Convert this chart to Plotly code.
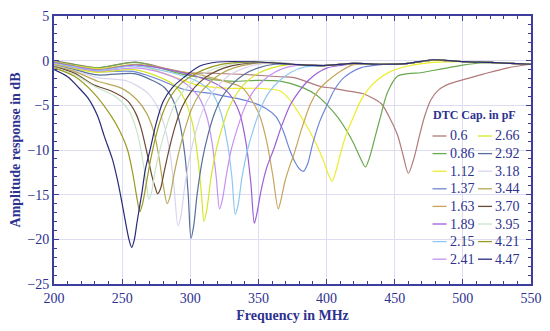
import plotly.graph_objects as go

# ---------------- data ----------------
caps = ["0.6", "0.86", "1.12", "1.37", "1.63", "1.89", "2.15", "2.41",
        "2.66", "2.92", "3.18", "3.44", "3.70", "3.95", "4.21", "4.47"]

colors = ["#b07a7a", "#6aa84f", "#ecec2c", "#6f86d6", "#c8a45a", "#9b5fd6",
          "#8ec8f0", "#c890f0", "#d6e62a", "#55709a", "#d8d4ee", "#b8a858",
          "#6b4a35", "#c8e4c8", "#9a9a20", "#2a2a7a"]

f_060 = [200, 215, 232, 260, 294, 315, 340, 366, 376, 396, 403, 410, 420, 427, 440, 446, 452, 456, 460, 464, 468, 472, 476.5, 482, 490, 501, 515, 533, 550]
v_060 = [0.0, -0.4, -0.8, -0.15, -1.3, -1.4, -1.55, -1.8, -1.9, -2.9, -3.05, -3.25, -3.5, -3.7, -4.8, -6.3, -8.3, -10.5, -12.6, -11.0, -8.5, -6.2, -4.4, -3.3, -2.6, -2.1, -1.5, -0.8, -0.4]

f_086 = [200, 215, 232, 260, 294, 329, 350, 366, 383, 393, 400, 408, 415, 420, 424.5, 428.5, 432, 436, 439.7, 444.6, 452, 460, 469, 478, 489, 500, 513, 535, 550]
v_086 = [-0.05, -0.45, -0.8, -0.2, -1.5, -2.3, -2.2, -2.3, -3.05, -3.9, -4.9, -6.3, -7.9, -9.3, -10.8, -11.9, -10.6, -8.3, -6.2, -3.6, -1.75, -1.45, -1.35, -1.1, -0.8, -0.5, -0.26, -0.3, -0.4]

f_112 = [200, 215, 232, 262, 280, 295, 307, 330, 350, 366, 372, 378.5, 385, 390.7, 395, 398, 401, 404, 407, 410, 415, 420, 425, 430, 437, 447, 460, 478, 500, 520, 535, 550]
v_112 = [-0.1, -0.55, -0.9, -0.45, -1.4, -2.2, -2.8, -3.1, -3.1, -3.4, -4.2, -5.6, -7.2, -8.8, -10.2, -11.3, -12.6, -13.5, -12.3, -10.5, -8.0, -6.2, -4.5, -3.3, -2.2, -1.2, -0.6, -0.2, -0.1, -0.2, -0.3, -0.4]

f_137 = [200, 215, 232, 258, 275, 295, 320, 344, 355, 363, 368, 373, 377, 380, 383, 386, 390, 395, 400.5, 406, 412.7, 425, 440, 460, 478, 500, 520, 535, 550]
v_137 = [-0.15, -0.6, -1.2, -1.2, -2.0, -3.2, -3.8, -4.6, -5.3, -6.3, -7.8, -10.0, -11.4, -12.1, -12.4, -11.6, -9.2, -6.8, -4.9, -3.2, -1.9, -0.8, -0.45, -0.3, 0.05, -0.1, -0.2, -0.3, -0.4]

f_163 = [200, 215, 232, 260, 290, 310, 325, 338, 345, 351, 356, 360.5, 364.5, 366.5, 369.5, 372.5, 376, 382, 388, 394, 400.5, 410, 420, 440, 460, 478, 500, 520, 535, 550]
v_163 = [-0.2, -0.6, -1.0, -0.4, -1.1, -1.7, -2.3, -3.0, -4.4, -6.2, -9.0, -12.8, -16.6, -15.6, -13.5, -12.0, -10.5, -7.5, -4.9, -3.3, -2.3, -1.2, -0.45, -0.4, -0.3, 0.05, -0.1, -0.2, -0.3, -0.4]

f_189 = [200, 215, 232, 260, 290, 315, 328, 336, 341, 344.5, 347, 349, 352, 356, 361, 367, 373.5, 380, 386, 393, 400.5, 412, 420, 440, 460, 478, 500, 520, 535, 550]
v_189 = [-0.25, -0.65, -1.05, -0.5, -1.2, -2.3, -3.6, -5.8, -9.3, -13.8, -18.2, -17.0, -14.5, -12.0, -10.0, -7.3, -4.9, -3.4, -2.3, -1.4, -0.8, -0.5, -0.3, -0.4, -0.3, 0.05, -0.1, -0.2, -0.3, -0.4]

f_215 = [200, 215, 232, 260, 285, 305, 316, 322, 327, 330.5, 333, 335, 338, 342, 346.5, 352, 358, 365, 374, 384, 398, 420, 440, 460, 478, 500, 520, 535, 550]
v_215 = [-0.3, -0.7, -1.1, -0.6, -1.3, -2.3, -3.6, -5.6, -9.0, -13.0, -17.2, -16.2, -13.0, -10.0, -7.6, -5.2, -3.5, -2.3, -1.3, -0.7, -0.55, -0.3, -0.4, -0.3, 0.05, -0.1, -0.2, -0.3, -0.4]

f_241 = [200, 215, 232, 260, 280, 297, 306, 312, 316, 319, 321.5, 323.5, 326.5, 330, 334.5, 340, 346, 353, 362, 372, 385, 398, 420, 440, 460, 478, 500, 520, 535, 550]
v_241 = [-0.35, -0.8, -1.2, -0.8, -1.4, -2.6, -4.0, -6.2, -9.2, -13.0, -16.6, -15.6, -12.8, -10.0, -7.6, -5.2, -3.5, -2.3, -1.3, -0.7, -0.45, -0.55, -0.3, -0.4, -0.3, 0.05, -0.1, -0.2, -0.3, -0.4]

f_266 = [200, 215, 232, 259, 275, 288, 296, 302, 306, 308.5, 310, 312, 315, 319, 323, 328, 334, 341, 350, 360, 372, 385, 398, 420, 440, 460, 478, 500, 520, 535, 550]
v_266 = [-0.4, -0.9, -1.3, -1.0, -1.7, -2.7, -4.4, -7.3, -11.5, -15.5, -18.0, -16.8, -13.3, -10.0, -7.7, -5.4, -3.7, -2.4, -1.4, -0.8, -0.45, -0.45, -0.55, -0.3, -0.4, -0.3, 0.05, -0.1, -0.2, -0.3, -0.4]

f_292 = [200, 215, 232, 259, 272, 281, 287, 292, 296, 298.5, 300.5, 302.5, 305, 309, 313, 318, 324, 331, 340, 350, 362, 375, 390, 405, 420, 440, 460, 478, 500, 520, 535, 550]
v_292 = [-0.5, -1.0, -1.6, -1.45, -2.2, -3.0, -4.3, -6.8, -10.5, -15.0, -19.9, -18.5, -15.0, -11.0, -8.3, -5.8, -3.9, -2.6, -1.5, -0.8, -0.4, -0.4, -0.5, -0.5, -0.3, -0.4, -0.3, 0.05, -0.1, -0.2, -0.3, -0.4]

f_318 = [200, 215, 232, 254, 268.6, 276, 281, 285, 288, 291, 293, 296, 300, 304, 309, 315, 322, 330, 340, 352, 365, 380, 398, 420, 440, 460, 478, 500, 520, 535, 550]
v_318 = [-0.55, -1.1, -1.9, -2.3, -3.6, -5.2, -7.3, -10.2, -14.0, -18.5, -17.5, -14.0, -10.5, -8.0, -5.6, -3.8, -2.5, -1.5, -0.8, -0.35, -0.2, -0.4, -0.55, -0.3, -0.4, -0.3, 0.05, -0.1, -0.2, -0.3, -0.4]

f_344 = [200, 215, 232, 249, 261, 268, 273.5, 277, 280, 283, 285, 288, 292, 296, 301, 307, 314, 322, 332, 345, 360, 375, 398, 420, 440, 460, 478, 500, 520, 535, 550]
v_344 = [-0.6, -1.2, -2.3, -3.05, -4.4, -5.9, -8.1, -10.8, -13.8, -16.0, -15.3, -12.8, -10.0, -7.7, -5.4, -3.7, -2.5, -1.5, -0.8, -0.35, -0.2, -0.4, -0.55, -0.3, -0.4, -0.3, 0.05, -0.1, -0.2, -0.3, -0.4]

f_370 = [200, 215, 229, 242, 254, 260, 264, 268.6, 272, 274.5, 276, 278, 281, 285, 289, 294, 300, 307, 315, 325, 338, 352, 375, 398, 420, 440, 460, 478, 500, 520, 535, 550]
v_370 = [-0.7, -1.4, -2.7, -3.4, -4.5, -5.9, -7.6, -10.6, -13.0, -14.3, -14.9, -14.4, -12.3, -9.6, -7.3, -5.2, -3.6, -2.4, -1.5, -0.8, -0.35, -0.2, -0.4, -0.55, -0.3, -0.4, -0.3, 0.05, -0.1, -0.2, -0.3, -0.4]

f_395 = [200, 215, 230, 245, 255, 261, 265.5, 268, 269.5, 271.5, 274, 278, 282, 287, 293, 300, 308, 318, 330, 345, 360, 375, 398, 420, 440, 460, 478, 500, 520, 535, 550]
v_395 = [-0.75, -1.55, -2.9, -4.0, -5.6, -8.0, -11.5, -14.0, -15.5, -14.8, -12.5, -9.8, -7.6, -5.4, -3.8, -2.6, -1.6, -0.9, -0.4, -0.2, -0.2, -0.4, -0.55, -0.3, -0.4, -0.3, 0.05, -0.1, -0.2, -0.3, -0.4]

f_421 = [200, 215, 229, 242, 248, 254, 258, 261, 263, 265, 268, 271, 275, 280, 286, 293, 300, 310, 322, 335, 350, 375, 398, 420, 440, 460, 478, 500, 520, 535, 550]
v_421 = [-0.8, -1.75, -3.6, -6.2, -7.8, -10.0, -12.8, -15.5, -16.9, -16.0, -13.5, -11.0, -8.3, -5.8, -3.9, -2.6, -1.8, -1.0, -0.45, -0.2, -0.15, -0.4, -0.55, -0.3, -0.4, -0.3, 0.05, -0.1, -0.2, -0.3, -0.4]

f_447 = [200, 210, 218, 225, 232, 237, 243, 246.5, 250, 253, 255, 257, 259, 261, 264.5, 267, 270.6, 275, 280, 287, 295, 307, 320, 350, 375, 398, 420, 440, 460, 478, 500, 520, 535, 550]
v_447 = [-1.0, -1.8, -3.0, -4.2, -6.2, -8.5, -11.1, -13.3, -16.0, -18.5, -20.0, -20.9, -20.0, -18.0, -14.8, -12.2, -9.9, -7.0, -4.6, -3.0, -1.9, -0.6, -0.15, -0.15, -0.4, -0.55, -0.3, -0.4, -0.3, 0.1, -0.1, -0.2, -0.3, -0.4]

freqs = [f_060, f_086, f_112, f_137, f_163, f_189, f_215, f_241,
         f_266, f_292, f_318, f_344, f_370, f_395, f_421, f_447]
values = [v_060, v_086, v_112, v_137, v_163, v_189, v_215, v_241,
          v_266, v_292, v_318, v_344, v_370, v_395, v_421, v_447]

x_ticks = [200, 250, 300, 350, 400, 450, 500, 550]
y_ticks = [5, 0, -5, -10, -15, -20, -25]

# ---------------- figure ----------------
NAVY = "#2d3190"
AXIS = "#3d3d9e"
FONT = "Liberation Serif"

fig = go.Figure()
for name, col, fx, vy in zip(caps, colors, freqs, values):
    fig.add_trace(go.Scatter(
        x=fx, y=vy, mode="lines", name=name, showlegend=False,
        line=dict(color=col, width=1.2, shape="spline", smoothing=0.8),
        hoverinfo="x+y+name"))

# The page body has an 8 px margin, so the figure is drawn at (8, 8).
OFF = 8
W, H = 534, 315
L, T = 54 - OFF, 16 - OFF
R = W - (531 - OFF)
B = H - (284 - OFF)
PW, PH = W - L - R, H - T - B

def px_x(px):
    return (px - OFF - L) / PW

def px_y(py):
    return (H - B - (py - OFF)) / PH

# custom two-column legend (column-major, as in the reference)
shapes = []
annotations = []
annotations.append(dict(
    text="<b>DTC Cap. in pF</b>", xref="paper", yref="paper",
    x=px_x(431), y=px_y(115), xanchor="left", yanchor="middle",
    showarrow=False, font=dict(family=FONT, size=12, color=NAVY)))
for i, (name, col) in enumerate(zip(caps, colors)):
    c, r = divmod(i, 8)
    ly = 136 + 17.6 * r
    lx0 = 432.5 + 45.5 * c
    shapes.append(dict(type="line", xref="paper", yref="paper",
                       x0=px_x(lx0), x1=px_x(lx0 + 14), y0=px_y(ly), y1=px_y(ly),
                       line=dict(color=col, width=1.3)))
    annotations.append(dict(
        text=name, xref="paper", yref="paper", x=px_x(lx0 + 15), y=px_y(ly),
        xanchor="left", yanchor="middle", showarrow=False,
        font=dict(family=FONT, size=14, color=NAVY)))

axis_common = dict(
    showline=True, linecolor=AXIS, linewidth=1.8, mirror="allticks",
    ticks="inside", ticklen=5, tickwidth=1.3, tickcolor=AXIS,
    showgrid=True, gridcolor="#dedcf0", gridwidth=1, zeroline=False,
    tickfont=dict(family=FONT, size=14, color=NAVY),
)

fig.update_layout(
    width=W, height=H,
    margin=dict(l=L, r=R, t=T, b=B, autoexpand=False),
    paper_bgcolor="white", plot_bgcolor="white",
    shapes=shapes, annotations=annotations,
    xaxis=dict(range=[200, 550], tickvals=x_ticks,
               minor=dict(dtick=10, tick0=200, ticks="inside", ticklen=3,
                          tickwidth=1, tickcolor=AXIS, showgrid=False),
               title=dict(text="<b>Frequency in MHz</b>", standoff=8,
                          font=dict(family=FONT, size=14, color=NAVY)),
               **axis_common),
    yaxis=dict(range=[-25, 5], tickvals=y_ticks,
               minor=dict(dtick=1, tick0=0, ticks="inside", ticklen=3,
                          tickwidth=1, tickcolor=AXIS, showgrid=False),
               title=dict(text="<b>Amplitude response in dB</b>", standoff=6,
                          font=dict(family=FONT, size=14, color=NAVY)),
               **axis_common),
    showlegend=False,
)

fig.write_html("out.html")
